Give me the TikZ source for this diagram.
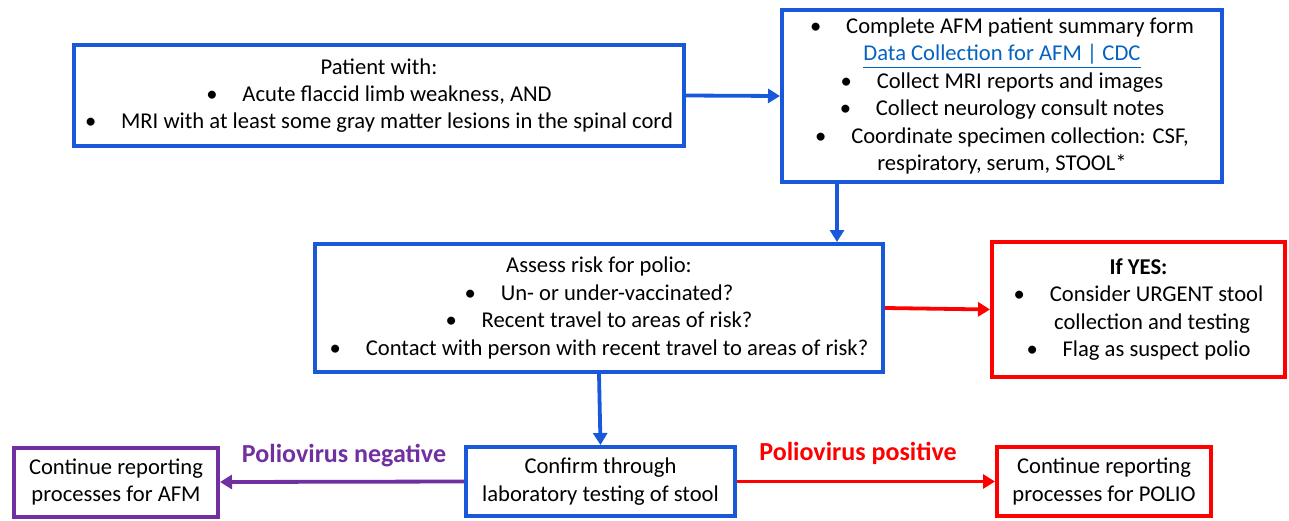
\documentclass[tikz,border=0pt]{standalone}
\usepackage{fontspec}
\setmainfont{Carlito}
\usetikzlibrary{arrows.meta}
\definecolor{flowblue}{RGB}{26,88,218}
\definecolor{flowred}{RGB}{255,0,0}
\definecolor{flowpurple}{RGB}{112,48,160}
\definecolor{linkblue}{RGB}{5,99,193}
\newcommand{\bul}{\textbullet\hspace{1.1em}}

\begin{document}
\begin{tikzpicture}[x=0.5pt, y=-0.5pt,
    box/.style={draw, line width=2pt, fill=white, align=center, inner sep=0pt,
                font=\fontsize{11.3}{13.7}\selectfont},
    bluebox/.style={box, draw=flowblue},
    redbox/.style={box, draw=flowred},
    purplebox/.style={box, draw=flowpurple},
    link/.style={line width=1.9pt, -{Triangle[width=7pt,length=6pt]}},
    tag/.style={font=\fontsize{13}{15}\bfseries\selectfont}]
    \useasboundingbox (0,0) rectangle (1289,520);

    %% boites du haut
    \node [bluebox, minimum width=305pt, minimum height=50.5pt] (patient) at (379,95.5)
        {Patient with:\\ \bul Acute flaccid limb weakness, AND\\
         \bul MRI with at least some gray matter lesions in the spinal cord};
    \node [bluebox, minimum width=220pt, minimum height=86pt] (summary) at (1002,96)
        {\bul Complete AFM patient summary form\\
         \textcolor{linkblue}{\underline{Data Collection for AFM | CDC}}\\
         \bul Collect MRI reports and images\\
         \bul Collect neurology consult notes\\
         \bul Coordinate specimen collection: CSF,\\
         respiratory, serum, STOOL*};

    %% evaluation du risque
    \node [bluebox, minimum width=284pt, minimum height=64pt] (risk) at (599,308)
        {Assess risk for polio:\\ \bul Un- or under-vaccinated?\\
         \bul Recent travel to areas of risk?\\
         \bul Contact with person with recent travel to areas of risk?};
    \node [redbox, minimum width=146.5pt, minimum height=67.5pt] (ifyes) at (1138.5,309.5)
        {\textbf{If YES:}\\ \bul Consider URGENT stool\\ \hspace{1.2em}collection and testing\\
         \bul Flag as suspect polio};

    %% boites du bas
    \node [bluebox, minimum width=134.5pt, minimum height=34.5pt] (confirm) at (600.5,481.5)
        {Confirm through\\ laboratory testing of stool};
    \node [purplebox, minimum width=102pt, minimum height=34.5pt] (afm) at (116,482)
        {Continue reporting\\ processes for AFM};
    \node [redbox, minimum width=107pt, minimum height=34.5pt] (polio) at (1104,481.5)
        {Continue reporting\\ processes for POLIO};

    %% fleches
    \coordinate (down) at (837,0);
    \draw [link, flowblue] (patient.east) -- (summary.west);
    \draw [link, flowblue] (summary.south -| down) -- (risk.north -| down);
    \draw [link, flowred] (risk.east) -- (ifyes.west);
    \draw [link, flowblue] (risk.south) -- (confirm.north);
    \draw [link, flowpurple] (confirm.west) -- (afm.east);
    \draw [link, flowred] (confirm.east) -- (polio.west);

    \node [tag, text=flowpurple] (neg) at (344,456) {Poliovirus negative};
    \node [tag, text=flowred] (pos) at (858,453) {Poliovirus positive};
\end{tikzpicture}
\end{document}
